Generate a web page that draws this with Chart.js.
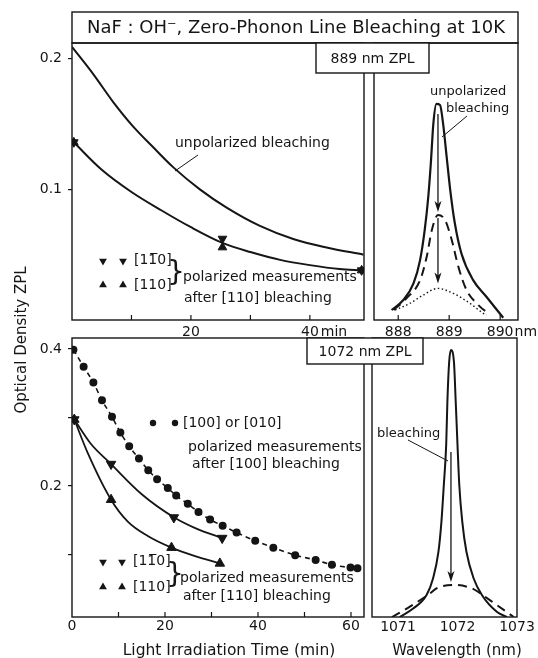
<!DOCTYPE html>
<html>
<head>
<meta charset="utf-8">
<script src="https://cdn.jsdelivr.net/npm/chart.js@4.4.1/dist/chart.umd.min.js"></script>
<style>
  html, body { margin: 0; padding: 0; background: #fff; }
  #wrap { position: relative; width: 538px; height: 658px; overflow: hidden; background: #fff; }
  canvas { position: absolute; left: 0; top: 0; }
</style>
</head>
<body>
<div id="wrap">
  <canvas id="tl" width="538" height="658"></canvas>
  <canvas id="tr" width="538" height="658"></canvas>
  <canvas id="bl" width="538" height="658"></canvas>
  <canvas id="br" width="538" height="658"></canvas>
</div>
<script>
// ---- top left: 889 nm ZPL vs irradiation time ----
const tlUnpolTime = [0, 3.6, 6.9, 10.3, 13.7, 17, 21.5, 26, 31.6, 37.2, 42.8, 49];
const tlUnpolOD = [0.209, 0.188, 0.167, 0.148, 0.132, 0.117, 0.100, 0.086, 0.072, 0.062, 0.0555, 0.050];
const tlPolTime = [0.3, 5, 10, 15, 20, 25.3, 30, 35, 40, 45, 48.7];
const tlPolOD = [0.136, 0.115, 0.098, 0.084, 0.071, 0.059, 0.052, 0.046, 0.042, 0.039, 0.038];
const tlMarkTime = [0.3, 25.3, 48.7];
const tlDownOD = [0.136, 0.0622, 0.038];   // [1-10]
const tlUpOD = [0.136, 0.0556, 0.038];     // [110]
const tlTimeTicks = [10, 20, 30, 40];
const tlTimeLabels = [20, 40];
const tlODTicks = [0.1, 0.2];

// ---- top right: 889 nm spectra ----
const trSolidNm = [887.87, 888.10, 888.30, 888.43, 888.52, 888.59, 888.64, 888.69, 888.75, 888.82, 888.88, 888.95, 889.02, 889.11, 889.24, 889.47, 889.73, 890.06];
const trSolidOD = [0.036, 0.072, 0.132, 0.217, 0.325, 0.445, 0.566, 0.71, 0.78, 0.776, 0.71, 0.59, 0.47, 0.35, 0.24, 0.144, 0.084, 0.008];
const trDashedNm = [887.91, 888.16, 888.43, 888.56, 888.66, 888.78, 888.92, 889.05, 889.18, 889.34, 889.54, 889.73, 889.80];
const trDashedOD = [0.036, 0.078, 0.144, 0.229, 0.325, 0.379, 0.36, 0.289, 0.192, 0.108, 0.06, 0.03, 0.025];
const trDottedNm = [887.94, 888.23, 888.49, 888.78, 889.08, 889.41, 889.67, 889.73];
const trDottedOD = [0.036, 0.06, 0.09, 0.114, 0.096, 0.06, 0.024, 0.018];
const trNmTicks = [888, 889, 890];

// ---- bottom left: 1072 nm ZPL vs irradiation time ----
const blDotTime = [0.3, 2.5, 4.6, 6.45, 8.6, 10.4, 12.3, 14.4, 16.4, 18.3, 20.6, 22.4, 24.9, 27.2, 29.7, 32.4, 35.4, 39.4, 43.3, 48.0, 52.4, 55.9, 59.9, 61.4];
const blDotOD = [0.399, 0.374, 0.351, 0.325, 0.301, 0.278, 0.258, 0.240, 0.223, 0.210, 0.197, 0.186, 0.174, 0.162, 0.151, 0.142, 0.132, 0.120, 0.110, 0.099, 0.092, 0.085, 0.081, 0.080];
const blDownTime = [0.5, 8.4, 21.9, 32.3];
const blDownOD = [0.297, 0.232, 0.154, 0.124];
const blUpTime = [0.5, 8.4, 21.4, 31.8];
const blUpOD = [0.297, 0.180, 0.110, 0.087];
const blDownLineTime = [0.5, 4, 8.4, 15, 22, 27, 32.3];
const blDownLineOD = [0.297, 0.262, 0.232, 0.188, 0.154, 0.137, 0.124];
const blUpLineTime = [0.5, 3.4, 8.4, 12, 16.3, 21.4, 26.3, 31.8];
const blUpLineOD = [0.297, 0.248, 0.180, 0.148, 0.127, 0.110, 0.098, 0.087];
const blTimeTicks = [0, 10, 20, 30, 40, 50, 60];
const blTimeLabels = [0, 20, 40, 60];
const blODTicks = [0.1, 0.2, 0.3, 0.4];
const blODLabels = [0.2, 0.4];

// ---- bottom right: 1072 nm spectra ----
const brSolidNm = [1071.03, 1071.26, 1071.48, 1071.59, 1071.68, 1071.73, 1071.77, 1071.81, 1071.83, 1071.86, 1071.89, 1071.94, 1071.97, 1072.00, 1072.03, 1072.08, 1072.15, 1072.27, 1072.41, 1072.66, 1072.83];
const brSolidOD = [0.0, 0.031, 0.079, 0.139, 0.234, 0.342, 0.473, 0.617, 0.772, 0.915, 0.957, 0.915, 0.772, 0.617, 0.473, 0.342, 0.234, 0.139, 0.079, 0.019, 0.0];
const brDashedNm = [1070.9, 1071.2, 1071.54, 1071.65, 1071.96, 1072.27, 1072.38, 1072.66, 1072.94];
const brDashedOD = [0.0, 0.037, 0.085, 0.103, 0.115, 0.100, 0.085, 0.043, 0.001];
const brNmTicks = [1071, 1072, 1073];

const W = 538, H = 658;
const INK = "#151515";
const FONT = '"DejaVu Sans", "Liberation Sans", sans-serif';
const TL = { l: 72, t: 43, r: 364, b: 320 };
const TR = { l: 374, t: 43, r: 518, b: 320 };
const BL = { l: 72, t: 338, r: 364, b: 617 };
const BR = { l: 372, t: 338, r: 517, b: 617 };

const pts = (xs, ys) => xs.map((x, i) => ({ x, y: ys[i] }));

function text(ctx, s, x, y, size, align) {
  ctx.font = size + "px " + FONT;
  ctx.textAlign = align || "left";
  ctx.textBaseline = "middle";
  ctx.fillStyle = INK;
  ctx.fillText(s, x, y);
}
function seg(ctx, x1, y1, x2, y2, w) {
  ctx.lineWidth = w || 1;
  ctx.beginPath(); ctx.moveTo(x1, y1); ctx.lineTo(x2, y2); ctx.stroke();
}
function tri(ctx, x, y, r, down) {
  const s = down ? -1 : 1;
  ctx.beginPath();
  ctx.moveTo(x, y - s * r);
  ctx.lineTo(x + r * 0.866, y + s * r * 0.5);
  ctx.lineTo(x - r * 0.866, y + s * r * 0.5);
  ctx.closePath(); ctx.fill();
}
function dot(ctx, x, y, r) {
  ctx.beginPath(); ctx.arc(x, y, r, 0, Math.PI * 2); ctx.fill();
}
function arrowDown(ctx, x, y1, y2) {
  seg(ctx, x, y1, x, y2 - 6, 1.3);
  ctx.beginPath();
  ctx.moveTo(x, y2); ctx.lineTo(x - 3.5, y2 - 11); ctx.lineTo(x, y2 - 8); ctx.lineTo(x + 3.5, y2 - 11);
  ctx.closePath(); ctx.fill();
}
function labelBox(ctx, s, l, t, r, b) {
  ctx.fillStyle = "#fff"; ctx.fillRect(l, t, r - l, b - t);
  ctx.lineWidth = 1.4; ctx.strokeRect(l, t, r - l, b - t);
  text(ctx, s, (l + r) / 2, (t + b) / 2 + 1, 14, "center");
}
const peakIdx = arr => arr.indexOf(Math.max(...arr));

function framePlugin(inTicks, extra) {
  return {
    id: "frame",
    afterDatasetsDraw(chart) {
      const { ctx, chartArea: a, scales } = chart;
      ctx.save();
      ctx.strokeStyle = INK; ctx.fillStyle = INK;
      ctx.lineWidth = 1.4;
      ctx.strokeRect(a.left, a.top, a.right - a.left, a.bottom - a.top);
      inTicks.forEach(v => {
        const x = scales.x.getPixelForValue(v);
        seg(ctx, x, a.bottom, x, a.bottom - 5, 1.2);
      });
      if (extra) extra(ctx, a, scales);
      ctx.restore();
    }
  };
}

function xAxis(min, max, tickVals, labelVals, pad) {
  return {
    type: "linear", min, max,
    afterBuildTicks: s => { s.ticks = tickVals.map(v => ({ value: v })); },
    afterFit: s => { s.height = 24; },
    grid: { display: false, drawTicks: false },
    border: { display: false },
    ticks: {
      color: INK, padding: pad, maxRotation: 0, autoSkip: false,
      font: { family: FONT, size: 14 },
      callback: v => (labelVals.includes(v) ? String(v) : "")
    }
  };
}
function yAxis(min, max, tickVals, labelVals, show) {
  return {
    type: "linear", min, max, display: show,
    afterBuildTicks: s => { s.ticks = tickVals.map(v => ({ value: v })); },
    afterFit: s => { s.width = 40; },
    grid: { display: true, drawOnChartArea: false, drawTicks: true, tickLength: 4, color: INK, lineWidth: 1.2 },
    border: { display: false },
    ticks: {
      color: INK, padding: 6, font: { family: FONT, size: 14 },
      callback: v => (labelVals.includes(v) ? v.toFixed(1) : "")
    }
  };
}

function makeChart(id, rect, yShown, datasets, xCfg, yCfg, inTicks, extra) {
  const yW = yShown ? 40 : 0;
  return new Chart(document.getElementById(id), {
    type: "scatter",
    data: { datasets },
    options: {
      responsive: false, animation: false, events: [],
      layout: {
        autoPadding: false,
        padding: { left: rect.l - yW, top: rect.t, right: W - rect.r, bottom: H - rect.b - 24 }
      },
      plugins: { legend: { display: false }, tooltip: { enabled: false } },
      scales: { x: xCfg, y: yCfg }
    },
    plugins: [framePlugin(inTicks, extra)]
  });
}

const curve = (xs, ys, extra) => Object.assign({
  data: pts(xs, ys), showLine: true, borderColor: INK, borderWidth: 2,
  pointRadius: 0, cubicInterpolationMode: "monotone"
}, extra || {});
const marks = (xs, ys, style, rot, r) => ({
  data: pts(xs, ys), showLine: false, pointStyle: style, pointRotation: rot,
  pointRadius: r, pointBackgroundColor: INK, pointBorderColor: INK, pointBorderWidth: 1
});

// top left
makeChart("tl", TL, true, [
  marks(tlMarkTime, tlDownOD, "triangle", 180, 5),
  marks(tlMarkTime, tlUpOD, "triangle", 0, 5),
  curve(tlUnpolTime, tlUnpolOD),
  curve(tlPolTime, tlPolOD)
], xAxis(0, 49.1, tlTimeTicks, tlTimeLabels, 4), yAxis(0, 0.212, tlODTicks, tlODTicks, true), tlTimeTicks,
(ctx, a, sc) => {
  ctx.lineWidth = 1.4; ctx.strokeRect(72, 12, 446, 31);
  text(ctx, "NaF : OH\u207B, Zero-Phonon Line Bleaching at 10K", 296, 28, 18, "center");
  text(ctx, "unpolarized bleaching", 175, 143, 14);
  seg(ctx, 198, 155, 175, 171, 1);
  tri(ctx, 103, 261, 4.5, true); tri(ctx, 123, 261, 4.5, true);
  text(ctx, "[11\u03050]", 134, 260, 14);
  tri(ctx, 103, 285, 4.5, false); tri(ctx, 123, 285, 4.5, false);
  text(ctx, "[110]", 134, 285, 14);
  text(ctx, "}", 167, 274, 28);
  text(ctx, "polarized measurements", 183, 277, 14);
  text(ctx, "after [110] bleaching", 184, 298, 14);
  ctx.font = "14px " + FONT;
  const x40 = sc.x.getPixelForValue(40) + ctx.measureText("40").width / 2 + 2;
  text(ctx, "min", x40, a.bottom + 4 + 8.4, 14);
});

// top right
makeChart("tr", TR, false, [
  curve(trSolidNm, trSolidOD, { borderWidth: 2.2 }),
  curve(trDashedNm, trDashedOD, { borderDash: [9, 6] }),
  curve(trDottedNm, trDottedOD, { borderDash: [1.5, 2.5], borderWidth: 1.4 })
], xAxis(887.525, 890.35, trNmTicks, trNmTicks, 4), { type: "linear", min: 0, max: 1, display: false }, trNmTicks,
(ctx, a, sc) => {
  const xp = sc.x.getPixelForValue(trDashedNm[peakIdx(trDashedOD)]);
  const ySolid = sc.y.getPixelForValue(Math.max(...trSolidOD));
  const yDash = sc.y.getPixelForValue(Math.max(...trDashedOD));
  const yDot = sc.y.getPixelForValue(Math.max(...trDottedOD));
  arrowDown(ctx, xp, ySolid + 10, yDash - 3);
  arrowDown(ctx, xp, yDash + 3, yDot - 5);
  text(ctx, "unpolarized", 430, 92, 13);
  text(ctx, "bleaching", 446, 109, 13);
  seg(ctx, 467, 116, 442, 137, 1);
  labelBox(ctx, "889 nm ZPL", 316, 43, 429, 73);
  ctx.font = "14px " + FONT;
  const x890 = sc.x.getPixelForValue(890) + ctx.measureText("890").width / 2 + 1;
  text(ctx, "nm", x890, a.bottom + 4 + 8.4, 14);
});

// bottom left
makeChart("bl", BL, true, [
  marks(blDownTime, blDownOD, "triangle", 180, 5.5),
  marks(blUpTime, blUpOD, "triangle", 0, 5.5),
  curve(blDotTime, blDotOD, { borderDash: [5, 4], borderWidth: 1.6, pointRadius: 3.2, pointStyle: "circle", pointBackgroundColor: INK, pointBorderColor: INK }),
  curve(blDownLineTime, blDownLineOD, { borderWidth: 1.8 }),
  curve(blUpLineTime, blUpLineOD, { borderWidth: 1.8 })
], xAxis(0, 62.8, blTimeTicks, blTimeLabels, 1), yAxis(0.0088, 0.416, blODTicks, blODLabels, true), blTimeTicks.slice(1),
(ctx, a, sc) => {
  dot(ctx, 153, 423, 3.2); dot(ctx, 175, 423, 3.2);
  text(ctx, "[100] or [010]", 183, 423, 14);
  text(ctx, "polarized measurements", 188, 447, 14);
  text(ctx, "after [100] bleaching", 192, 464, 14);
  tri(ctx, 103, 562, 4.5, true); tri(ctx, 122, 562, 4.5, true);
  text(ctx, "[11\u03050]", 133, 561, 14);
  tri(ctx, 103, 587, 4.5, false); tri(ctx, 122, 587, 4.5, false);
  text(ctx, "[110]", 133, 587, 14);
  text(ctx, "}", 166, 576, 28);
  text(ctx, "polarized measurements", 180, 578, 14);
  text(ctx, "after [110] bleaching", 183, 596, 14);
  text(ctx, "Light Irradiation Time (min)", 229, 651, 15.5, "center");
  ctx.save();
  ctx.translate(22, 340); ctx.rotate(-Math.PI / 2);
  text(ctx, "Optical Density ZPL", 0, 0, 15, "center");
  ctx.restore();
});

// bottom right
makeChart("br", BR, false, [
  curve(brSolidNm, brSolidOD, { borderWidth: 2 }),
  curve(brDashedNm, brDashedOD, { borderDash: [9, 6] })
], xAxis(1070.563, 1073.0, brNmTicks, brNmTicks, 2), { type: "linear", min: 0, max: 1, display: false }, [],
(ctx, a, sc) => {
  const xp = sc.x.getPixelForValue(brSolidNm[peakIdx(brSolidOD)]);
  const yDash = sc.y.getPixelForValue(Math.max(...brDashedOD));
  arrowDown(ctx, xp, 452, yDash - 3);
  text(ctx, "bleaching", 377, 434, 13);
  seg(ctx, 408, 440, 448, 461, 1);
  labelBox(ctx, "1072 nm ZPL", 307, 338, 423, 364);
  text(ctx, "Wavelength (nm)", 457, 651, 15, "center");
});
</script>
</body>
</html>
